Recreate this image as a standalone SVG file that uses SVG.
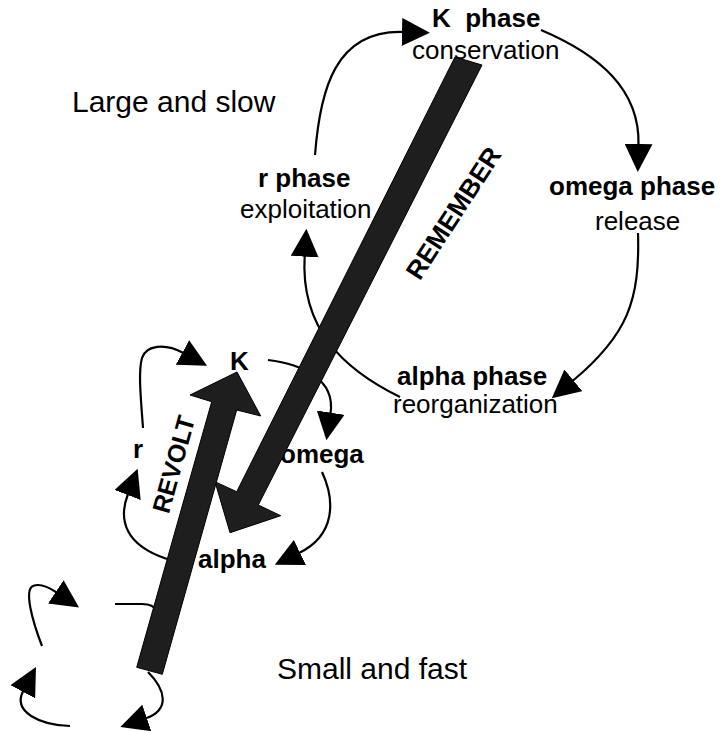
<svg xmlns="http://www.w3.org/2000/svg" width="724" height="731" viewBox="0 0 724 731">
<style>
.t{font-family:"Liberation Sans",Arial,sans-serif;fill:#000}
.b{font-weight:bold;font-size:26px}
.s{font-size:26px}
.big{font-size:30px}
.c{fill:none;stroke:#000;stroke-width:2.2;marker-end:url(#ah)}
.n{fill:none;stroke:#000;stroke-width:2.2}
.bar{fill:#1e1e1e;stroke:#000;stroke-width:1}
</style>
<defs>
<marker id="ah" markerUnits="userSpaceOnUse" markerWidth="28" markerHeight="28" viewBox="0 0 26 26" refX="1" refY="13" orient="auto"><path d="M0,0 L26,13 L0,26 z" fill="#000"/></marker>
</defs>
<rect width="724" height="731" fill="#fff"/>
<g id="connectors">
<path class="c" d="M315,155 C320,90 335,30 403,32"/>
<path class="c" d="M541,30 C600,55 640,90 638.5,145"/>
<path class="c" d="M638,233 C640,300 628,335 572.5,381"/>
<path class="c" d="M400,397 C345,370 300,330 304.7,255.6"/>
<path class="c" d="M143,428 C141,400 138,372 142,358 C146,345 165,343 183.4,353"/>
<path class="c" d="M268,360 C300,364 336,378 330.5,413.7"/>
<path class="c" d="M322,472 C335,500 336,535 299,553"/>
<path class="c" d="M167,559 C125,545 118,520 128,494"/>
<path class="n" d="M115,604 L142,604 C150,604 154,606 158,612"/>
<path class="c" d="M42,646 C32,620 24,590 33,586 C40,583 50,588 56.7,592.5"/>
<path class="c" d="M70,726 C40,725 12,712 23.3,690.8"/>
<path class="c" d="M148,672 C166,690 170,710 145.8,718.3"/>
</g>
<g id="node-K-phase"><text class="t b" x="432" y="27" xml:space="preserve">K  phase</text><text class="t s" x="412" y="59">conservation</text></g>
<g id="node-large-slow"><text class="t big" x="72" y="112">Large and slow</text></g>
<g id="node-r-phase"><text class="t b" x="258" y="187">r phase</text><text class="t s" x="240" y="218">exploitation</text></g>
<g id="node-omega-phase"><text class="t b" x="549" y="195">omega phase</text><text class="t s" x="595" y="230">release</text></g>
<g id="node-alpha-phase"><text class="t b" x="397" y="385">alpha phase</text><text class="t s" x="393" y="413">reorganization</text></g>
<g id="node-K"><text class="t b" x="230" y="370">K</text></g>
<g id="node-r"><text class="t b" x="133" y="458">r</text></g>
<g id="node-omega"><text class="t b" x="280" y="463">omega</text></g>
<g id="node-alpha"><text class="t b" x="198" y="568">alpha</text></g>
<g id="node-small-fast"><text class="t big" x="277" y="679">Small and fast</text></g>
<g id="bar-remember">
<polygon class="bar" points="455,57 482,65 258.3,505 280.7,515.7 230,532.7 215,481.7 236.7,491.7"/>
<text class="t b" text-anchor="middle" transform="translate(461,218) rotate(-57)">REMEMBER</text>
</g>
<g id="bar-revolt">
<polygon class="bar" points="136.7,667.3 162.3,674.3 236.7,410 260.7,416 237,372 190,395 211.7,401.7"/>
<text class="t b" style="font-size:25px" text-anchor="middle" transform="translate(182,466.6) rotate(-74.5)">REVOLT</text>
</g>
</svg>
